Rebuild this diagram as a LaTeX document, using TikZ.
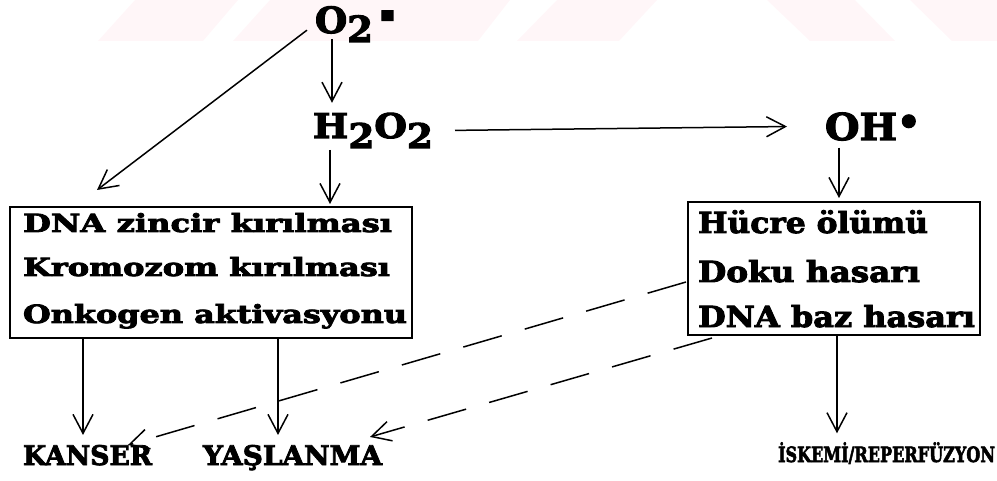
\documentclass[tikz,border=0pt]{standalone}
\usepackage{fontspec}
\setmainfont{DejaVu Serif}
\newfontfamily\fatfont{DejaVu Serif Bold}[FakeBold=3]
\usepackage{graphicx}
\usetikzlibrary{arrows.meta,calc}
\definecolor{wmpink}{RGB}{255,246,248}
\newcommand\fitw[3]{\resizebox{#1pt}{\height}{\fontsize{#2}{#2}\fatfont #3}}
\tikzset{
  txt/.style={inner sep=0pt, outer sep=0pt, anchor=base west},
  box/.style={draw, line width=1.8pt, inner sep=0pt, outer sep=0pt},
  arr/.style={line width=1.5pt, -{Straight Barb[length=19pt,width=20pt,line width=1.5pt]}},
  darr/.style={arr, dash pattern=on 40pt off 24pt}
}
\begin{document}
\begin{tikzpicture}[x=1pt,y=-1pt]
\useasboundingbox (0,0) rectangle (997,481);
% watermark stripes
\fill[wmpink] (98,41) -- (203,41) -- (238,0) -- (135,0) -- cycle;
\fill[wmpink] (233,41) -- (478,41) -- (510,0) -- (270,0) -- cycle;
\fill[wmpink] (517,41) -- (619,41) -- (657,0) -- (557,0) -- cycle;
\fill[wmpink] (767,0) -- (855,0) -- (895,41) -- (810,41) -- cycle;
\fill[wmpink] (910,0) -- (997,0) -- (997,41) -- (952,41) -- cycle;

% top species
\node[txt] (o2) at (315,33) {\fitw{58}{36}{O\raisebox{-9pt}{2}}\hspace{7pt}\raisebox{-1pt}{\fontsize{36}{36}\fatfont\scalebox{1.0}[1.9]{-}}};
\node[txt] (h2o2) at (313,138) {\fitw{120}{34}{H\raisebox{-10pt}{2}O\raisebox{-10pt}{2}}};
\node[txt] (oh) at (825,140) {\fitw{72}{37}{OH}\raisebox{5pt}{\fontsize{37}{37}\fatfont •}};

% boxes
\node[box, minimum width=402pt, minimum height=131pt] (lbox) at (211,272.5) {};
\node[box, minimum width=292pt, minimum height=133pt] (rbox) at (834,268.5) {};

\node[txt] (l1) at (23,232) {\fitw{369}{25}{DNA zincir kırılması}};
\node[txt] (l2) at (23,276) {\fitw{367}{25}{Kromozom kırılması}};
\node[txt] (l3) at (23,323) {\fitw{384}{25}{Onkogen aktivasyonu}};

\node[txt] (r1) at (698,233) {\fitw{230}{29}{Hücre ölümü}};
\node[txt] (r2) at (698,282) {\fitw{222}{29}{Doku hasarı}};
\node[txt] (r3) at (698,327) {\fitw{277}{29}{DNA baz hasarı}};

% outcomes
\node[txt] (kanser) at (23,465) {\fitw{129}{27}{KANSER}};
\node[txt] (yas) at (203,465) {\fitw{179}{27}{YAŞLANMA}};
\node[txt] (isk) at (778,462) {\fitw{217}{21}{İSKEMİ/REPERFÜZYON}};

% connectors
\draw[arr] ($(o2.south west)+(17,-3)$) -- ($(h2o2.north west)+(19,-10)$);
\draw[arr] ($(o2.west)+(-8,6)$) -- ($(lbox.north west)+(87,-17)$);
\draw[arr] ($(h2o2.south west)+(17,2)$) -- ($(lbox.north west)+(320,-3)$);
\draw[arr] ([xshift=22pt]h2o2.east) -- ([xshift=-38pt]oh.west);
\draw[arr] ($(oh.south west)+(14,7)$) -- ($(rbox.north west)+(151,-4)$);
\draw[arr] ($(lbox.south west)+(73,0)$) -- ($(kanser.north west)+(60,-10)$);
\draw[arr] ($(lbox.south west)+(268,0)$) -- ($(yas.north west)+(75,-10)$);
\draw[arr] ($(rbox.south west)+(149,0)$) -- ($(isk.north west)+(59,-9)$);
\draw[darr] ($(rbox.west)+(-2,13.5)$) -- ($(kanser.north east)+(-24,0)$);
\draw[darr] ($(rbox.south west)+(24,3)$) -- ($(yas.north east)+(-12,-8)$);
\end{tikzpicture}
\end{document}
